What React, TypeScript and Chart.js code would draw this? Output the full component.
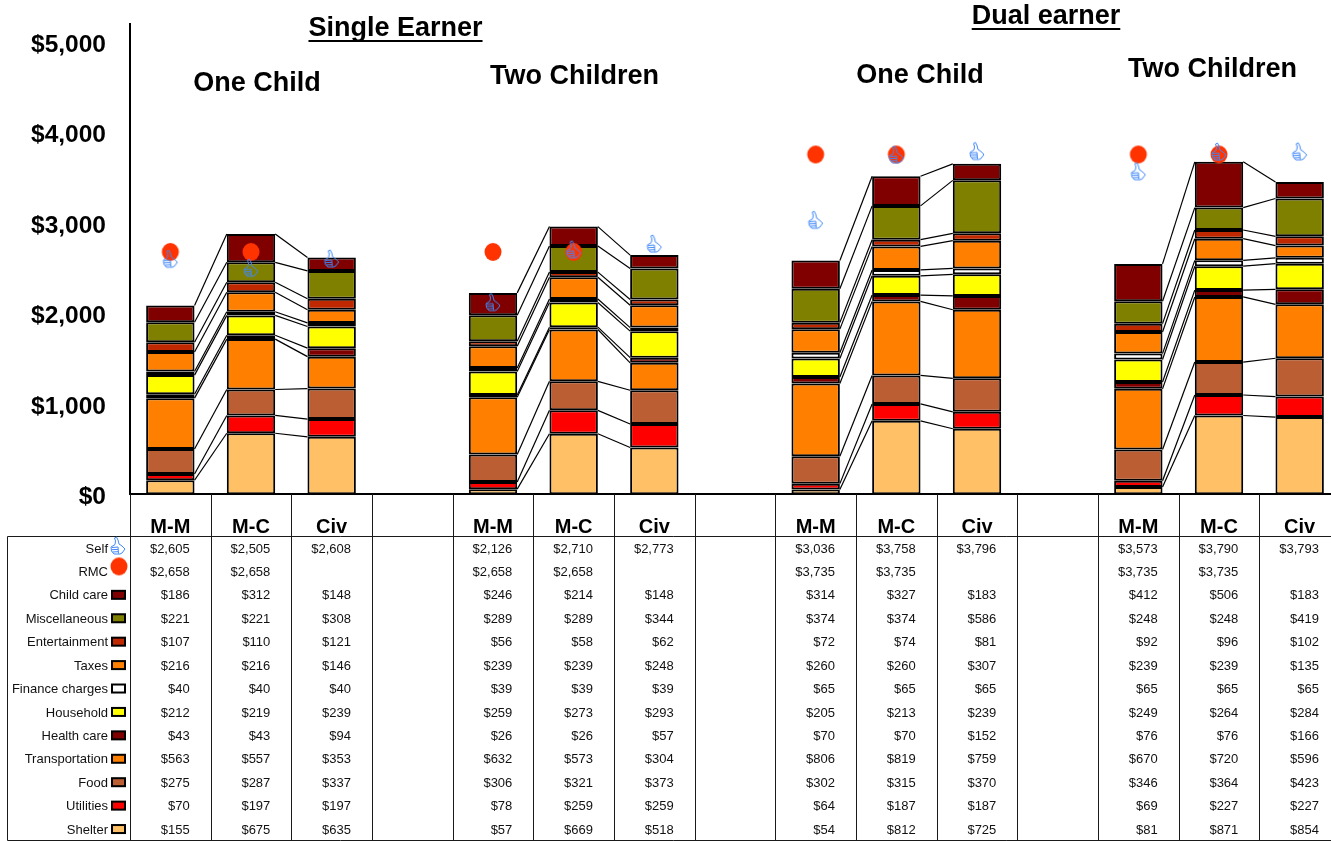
import React, { useEffect, useRef } from "react";
import { Chart, registerables } from "chart.js";

Chart.register(...registerables);

const FONT = '"Liberation Sans", Arial, sans-serif';

const categories = ["M-M", "M-C", "Civ", "", "M-M", "M-C", "Civ", "", "M-M", "M-C", "Civ", "", "M-M", "M-C", "Civ"];
const yTicks = [0, 1000, 2000, 3000, 4000, 5000];

const self = [2605, 2505, 2608, null, 2126, 2710, 2773, null, 3036, 3758, 3796, null, 3573, 3790, 3793];
const rmc = [2658, 2658, null, null, 2658, 2658, null, null, 3735, 3735, null, null, 3735, 3735, null];
const childCare = [186, 312, 148, null, 246, 214, 148, null, 314, 327, 183, null, 412, 506, 183];
const miscellaneous = [221, 221, 308, null, 289, 289, 344, null, 374, 374, 586, null, 248, 248, 419];
const entertainment = [107, 110, 121, null, 56, 58, 62, null, 72, 74, 81, null, 92, 96, 102];
const taxes = [216, 216, 146, null, 239, 239, 248, null, 260, 260, 307, null, 239, 239, 135];
const financeCharges = [40, 40, 40, null, 39, 39, 39, null, 65, 65, 65, null, 65, 65, 65];
const household = [212, 219, 239, null, 259, 273, 293, null, 205, 213, 239, null, 249, 264, 284];
const healthCare = [43, 43, 94, null, 26, 26, 57, null, 70, 70, 152, null, 76, 76, 166];
const transportation = [563, 557, 353, null, 632, 573, 304, null, 806, 819, 759, null, 670, 720, 596];
const food = [275, 287, 337, null, 306, 321, 373, null, 302, 315, 370, null, 346, 364, 423];
const utilities = [70, 197, 197, null, 78, 259, 259, null, 64, 187, 187, null, 69, 227, 227];
const shelter = [155, 675, 635, null, 57, 669, 518, null, 54, 812, 725, null, 81, 871, 854];

const stackSeries = [
  { label: "Shelter", data: shelter, color: "#FFC066" },
  { label: "Utilities", data: utilities, color: "#FF0000" },
  { label: "Food", data: food, color: "#BB5E33" },
  { label: "Transportation", data: transportation, color: "#FF8000" },
  { label: "Health care", data: healthCare, color: "#800000" },
  { label: "Household", data: household, color: "#FFFF00" },
  { label: "Finance charges", data: financeCharges, color: "#FFFFFF" },
  { label: "Taxes", data: taxes, color: "#FF8000" },
  { label: "Entertainment", data: entertainment, color: "#C02800" },
  { label: "Miscellaneous", data: miscellaneous, color: "#808000" },
  { label: "Child care", data: childCare, color: "#800000" },
];

const titles = [
  { text: "Single Earner", x: 395.5, y: 27, underline: true },
  { text: "Dual earner", x: 1046, y: 15, underline: true },
  { text: "One Child", x: 257, y: 82, underline: false },
  { text: "Two Children", x: 574.5, y: 75, underline: false },
  { text: "One Child", x: 920, y: 74, underline: false },
  { text: "Two Children", x: 1212.5, y: 68, underline: false },
];

function makeThumb(): HTMLCanvasElement {
  const c = document.createElement("canvas");
  c.width = 18;
  c.height = 21;
  const g = c.getContext("2d")!;
  g.translate(2, 2);
  g.strokeStyle = "#4088F8";
  g.lineWidth = 1;
  g.lineJoin = "round";
  g.beginPath();
  g.moveTo(3.5, 1);
  g.lineTo(5.5, 0);
  g.lineTo(7, 3);
  g.lineTo(8, 7);
  g.lineTo(11, 9);
  g.lineTo(14, 12);
  g.lineTo(11, 16);
  g.lineTo(9, 17);
  g.lineTo(3, 17);
  g.lineTo(0.5, 14);
  g.lineTo(0, 10);
  g.lineTo(4, 7.5);
  g.lineTo(4.5, 4);
  g.closePath();
  g.stroke();
  g.beginPath();
  g.moveTo(1, 10.5);
  g.lineTo(7, 10);
  g.moveTo(1, 12.7);
  g.lineTo(7, 12.4);
  g.moveTo(1.5, 15);
  g.lineTo(7, 14.7);
  g.moveTo(7, 10);
  g.lineTo(7.5, 16.5);
  g.stroke();
  return c;
}

function makeDot(): HTMLCanvasElement {
  const c = document.createElement("canvas");
  c.width = 24;
  c.height = 24;
  const g = c.getContext("2d")!;
  g.fillStyle = "#FF3300";
  g.beginPath();
  g.ellipse(12, 10, 8.5, 9, 0, 0, Math.PI * 2);
  g.fill();
  return c;
}

const fmt = (v: number) => "$" + v.toLocaleString("en-US");

export default function App() {
  const ref = useRef<HTMLCanvasElement>(null);

  useEffect(() => {
    document.body.style.margin = "0";
    document.body.style.overflow = "hidden";
    const thumb = makeThumb();
    const dot = makeDot();

    const seriesLines = {
      id: "seriesLines",
      beforeDraw(chart: any) {
        // y tick labels sit a little below their value in the reference
        chart.scales.y.getLabelItems().forEach((item: any) => {
          item.options.translation[1] += 3;
        });
      },
      beforeDatasetsDraw(chart: any) {
        const ctx = chart.ctx;
        ctx.save();
        ctx.strokeStyle = "#000";
        ctx.lineWidth = 1.2;
        stackSeries.forEach((s) => {
          const ds = chart.data.datasets.findIndex((d: any) => d.label === s.label);
          const meta = chart.getDatasetMeta(ds);
          for (let i = 0; i + 1 < categories.length; i++) {
            if (s.data[i] == null || s.data[i + 1] == null) continue;
            const a = meta.data[i] as any;
            const b = meta.data[i + 1] as any;
            ctx.beginPath();
            ctx.moveTo(a.x + a.width / 2, a.y);
            ctx.lineTo(b.x - b.width / 2, b.y);
            ctx.stroke();
          }
        });
        ctx.restore();
      },
    };

    const tableAndTitles = {
      id: "tableAndTitles",
      afterDraw(chart: any) {
        const ctx = chart.ctx;
        const area = chart.chartArea;
        const band = (area.right - area.left) / categories.length;
        const tableTop = 536.5;
        const tableBottom = 840.5;
        const rowY = (i: number) => 549 + 23.42 * i;
        ctx.save();

        // grid
        ctx.strokeStyle = "#1a1a1a";
        ctx.lineWidth = 1;
        ctx.beginPath();
        ctx.moveTo(7.5, tableTop);
        ctx.lineTo(area.right, tableTop);
        ctx.moveTo(7.5, tableTop);
        ctx.lineTo(7.5, tableBottom);
        ctx.moveTo(7.5, tableBottom);
        ctx.lineTo(area.right, tableBottom);
        for (let i = 0; i <= categories.length; i++) {
          const x = Math.round(area.left + band * i) + 0.5;
          ctx.moveTo(x, area.bottom);
          ctx.lineTo(x, tableBottom);
        }
        ctx.stroke();

        // table rows
        const rows: any[] = [
          { label: "Self", data: self, icon: thumb },
          { label: "RMC", data: rmc, icon: dot },
          ...[...stackSeries].reverse(),
        ];
        ctx.font = "13px " + FONT;
        ctx.textBaseline = "middle";
        rows.forEach((r, i) => {
          const y = rowY(i);
          ctx.textAlign = "right";
          ctx.fillStyle = "#111";
          ctx.fillText(r.label, 108, y);
          if (r.icon === thumb) {
            ctx.drawImage(thumb, 109, y - 14);
          } else if (r.icon === dot) {
            ctx.drawImage(dot, 107, y - 16);
          } else {
            ctx.fillStyle = r.color;
            ctx.strokeStyle = "#000";
            ctx.lineWidth = 2;
            ctx.fillRect(112, y - 5, 13, 8);
            ctx.strokeRect(112, y - 5, 13, 8);
          }
          ctx.fillStyle = "#111";
          r.data.forEach((v: number | null, c: number) => {
            if (v == null) return;
            ctx.fillText(fmt(v), area.left + band * (c + 1) - 21, y);
          });
        });

        // titles
        ctx.font = "bold 27px " + FONT;
        ctx.fillStyle = "#000";
        ctx.textAlign = "center";
        titles.forEach((t) => {
          ctx.fillText(t.text, t.x, t.y + 2);
          if (t.underline) {
            const w = ctx.measureText(t.text).width;
            ctx.fillRect(t.x - w / 2, t.y + 13, w, 2);
          }
        });
        ctx.restore();
      },
    };

    const chart = new Chart(ref.current!, {
      type: "bar",
      data: {
        labels: categories,
        datasets: [
          {
            type: "line",
            label: "Self",
            data: self,
            showLine: false,
            pointStyle: thumb,
            pointRadius: 9,
            stack: "self",
            order: 0,
          },
          {
            type: "line",
            label: "RMC",
            data: rmc,
            showLine: false,
            pointStyle: dot,
            pointRadius: 9,
            stack: "rmc",
            order: 1,
          },
          ...stackSeries.map((s) => ({
            type: "bar",
            label: s.label,
            data: s.data,
            backgroundColor: s.color,
            borderColor: "#000",
            borderWidth: 2,
            borderSkipped: false,
            stack: "cost",
            barPercentage: 0.6,
            categoryPercentage: 1,
            order: 2,
          })),
        ],
      } as any,
      options: {
        responsive: false,
        animation: false,
        events: [],
        layout: { padding: { top: 24, left: 0, right: 0, bottom: 0 } },
        plugins: { legend: { display: false }, tooltip: { enabled: false }, title: { display: false } },
        scales: {
          x: {
            stacked: true,
            afterFit: (s: any) => {
              s.height = 841 - 494.3;
              s.paddingLeft = 0;
              s.paddingRight = 0;
            },
            grid: { display: false, drawTicks: false },
            border: { display: true, color: "#000", width: 2 },
            ticks: {
              padding: 21,
              autoSkip: false,
              maxRotation: 0,
              color: "#000",
              font: { family: FONT, size: 20, weight: "bold" },
            },
          },
          y: {
            stacked: true,
            min: 0,
            max: 5200,
            afterFit: (s: any) => {
              s.width = 130;
              s.paddingTop = 0;
              s.paddingBottom = 0;
            },
            afterBuildTicks: (s: any) => {
              s.ticks = yTicks.map((value) => ({ value }));
            },
            grid: { display: false, drawTicks: false },
            border: { display: true, color: "#000", width: 2 },
            ticks: {
              padding: 24,
              color: "#000",
              font: { family: FONT, size: 24.5, weight: "bold" },
              callback: (v: any) => "$" + Number(v).toLocaleString("en-US"),
            },
          },
        },
      } as any,
      plugins: [seriesLines, tableAndTitles] as any,
    });
    return () => chart.destroy();
  }, []);

  return (
    <div style={{ position: "fixed", left: 0, top: 0, width: 1331, height: 841, overflow: "hidden", background: "#fff" }}>
      <div style={{ position: "absolute", left: 0, top: 0, width: 1350, height: 841 }}>
        <canvas ref={ref} width={1350} height={841} style={{ display: "block", width: 1350, height: 841 }} />
      </div>
    </div>
  );
}
